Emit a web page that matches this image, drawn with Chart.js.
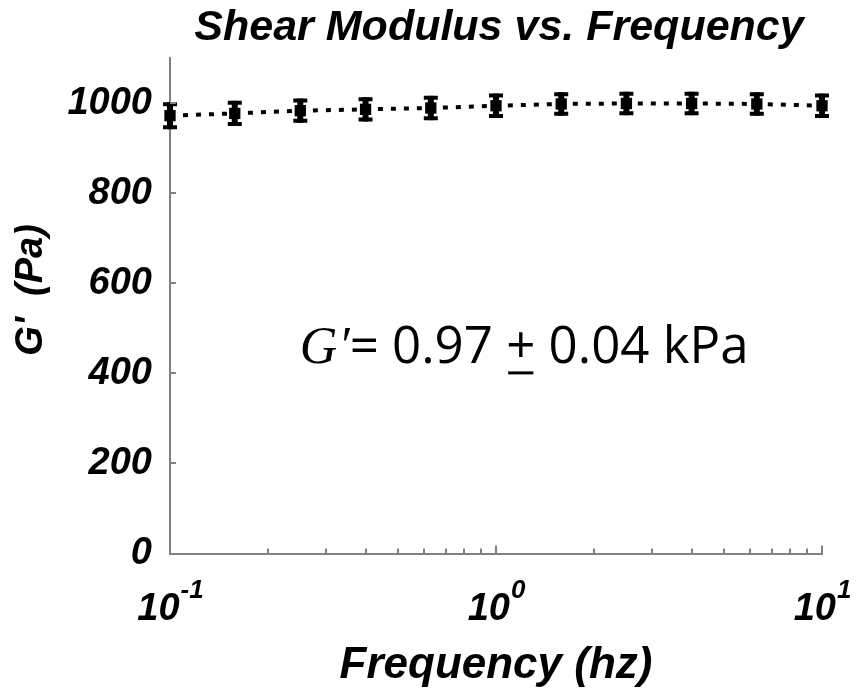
<!DOCTYPE html>
<html>
<head>
<meta charset="utf-8">
<script src="https://cdn.jsdelivr.net/npm/chart.js@4.4.0/dist/chart.umd.min.js"></script>
<style>
  html, body { margin: 0; padding: 0; background: #fff; }
  #wrap { width: 856px; height: 694px; }
</style>
</head>
<body>
<div id="wrap"><canvas id="shearChart"></canvas></div>
<script>
const frequencies = [0.1, 0.158, 0.251, 0.398, 0.631, 1, 1.585, 2.512, 3.981, 6.31, 10];
const modulus = [972, 977, 983, 986, 989, 994, 998, 999, 999, 998, 994];
const modulusErr = [30, 28, 27, 27, 27, 27, 26, 26, 26, 26, 27];
const yTicks = [0, 200, 400, 600, 800, 1000];
const xTicks = [0.1, 1, 10];
const xExponents = ['-1', '0', '1'];
const xMinorTicks = [0.2, 0.3, 0.4, 0.5, 0.6, 0.7, 0.8, 0.9, 2, 3, 4, 5, 6, 7, 8, 9];

const SANS = '"Liberation Sans", Arial, sans-serif';
const AXIS_GREY = '#808080';

// error bars, inward ticks, x tick labels with exponents, title and the note
const decor = {
  id: 'decor',
  afterDatasetsDraw(chart) {
    const { ctx, scales: { x, y } } = chart;
    ctx.save();
    ctx.strokeStyle = '#000';
    frequencies.forEach((f, i) => {
      const px = x.getPixelForValue(f);
      const top = y.getPixelForValue(modulus[i] + modulusErr[i]);
      const bot = y.getPixelForValue(modulus[i] - modulusErr[i]);
      ctx.lineWidth = 6;
      ctx.beginPath();
      ctx.moveTo(px, top); ctx.lineTo(px, bot);
      ctx.stroke();
      ctx.lineWidth = 4;
      ctx.beginPath();
      ctx.moveTo(px - 7, top + 2); ctx.lineTo(px + 7, top + 2);
      ctx.moveTo(px - 7, bot - 2); ctx.lineTo(px + 7, bot - 2);
      ctx.stroke();
    });
    ctx.restore();
  },
  afterDraw(chart) {
    const { ctx, chartArea, scales: { x, y } } = chart;
    ctx.save();

    // inward tick marks
    ctx.strokeStyle = AXIS_GREY;
    ctx.lineWidth = 2;
    ctx.beginPath();
    yTicks.slice(1).forEach(v => {
      const py = Math.round(y.getPixelForValue(v));
      ctx.moveTo(chartArea.left, py); ctx.lineTo(chartArea.left + 6, py);
    });
    xTicks.forEach(v => {
      const px = Math.round(x.getPixelForValue(v));
      ctx.moveTo(px, chartArea.bottom); ctx.lineTo(px, chartArea.bottom - 8);
    });
    xMinorTicks.forEach(v => {
      const px = Math.round(x.getPixelForValue(v));
      ctx.moveTo(px, chartArea.bottom); ctx.lineTo(px, chartArea.bottom - 5);
    });
    ctx.stroke();

    // x tick labels: 10 with raised exponent
    ctx.fillStyle = '#000';
    ctx.textBaseline = 'alphabetic';
    ctx.textAlign = 'left';
    xTicks.forEach((v, i) => {
      const px = x.getPixelForValue(v);
      ctx.font = 'italic bold 38px ' + SANS;
      const wBase = ctx.measureText('10').width;
      ctx.font = 'italic bold 26px ' + SANS;
      const wExp = ctx.measureText(xExponents[i]).width;
      const start = px - (wBase + wExp) / 2;
      ctx.font = 'italic bold 38px ' + SANS;
      ctx.fillText('10', start, chartArea.bottom + 66);
      ctx.font = 'italic bold 26px ' + SANS;
      ctx.fillText(xExponents[i], start + wBase + 1, chartArea.bottom + 44);
    });

    // title
    ctx.textAlign = 'center';
    ctx.font = 'italic bold 43px ' + SANS;
    ctx.fillText('Shear Modulus vs. Frequency', (chartArea.left + chartArea.right) / 2 + 3, 40);

    // note
    let nx = x.getPixelForValue(0.25);
    const ny = y.getPixelForValue(422);
    ctx.textAlign = 'left';
    ctx.font = 'italic 52px "Liberation Serif", serif';
    ctx.fillText('G', nx, ny);
    nx += ctx.measureText('G').width + 1;
    ctx.fillText('\u2032', nx, ny);
    nx += ctx.measureText('\u2032').width;
    ctx.font = '51px "Open Sans", sans-serif';
    ctx.fillText('= 0.97 ', nx, ny);
    nx += ctx.measureText('= 0.97 ').width;
    const wPlus = ctx.measureText('+').width;
    ctx.fillText('+', nx, ny);
    ctx.fillRect(nx + 2, ny + 8, wPlus - 4, 3);
    nx += wPlus;
    ctx.fillText(' 0.04 kPa', nx, ny);

    ctx.restore();
  }
};

const ctx = document.getElementById('shearChart').getContext('2d');

new Chart(ctx, {
  type: 'line',
  data: {
    datasets: [{
      data: frequencies.map((f, i) => ({ x: f, y: modulus[i] })),
      borderColor: '#000',
      backgroundColor: '#000',
      borderWidth: 4,
      borderDash: [5, 8],
      borderCapStyle: 'butt',
      pointStyle: 'rect',
      pointRadius: 8,
      pointBorderWidth: 0,
      tension: 0,
      clip: false
    }]
  },
  options: {
    responsive: true,
    maintainAspectRatio: false,
    animation: false,
    layout: { padding: { top: 58, right: 34, left: 0, bottom: 0 } },
    plugins: {
      legend: { display: false },
      tooltip: { enabled: false }
    },
    scales: {
      x: {
        type: 'logarithmic',
        min: 0.1,
        max: 10,
        grid: { display: false, drawTicks: false },
        border: { color: AXIS_GREY, width: 2 },
        afterBuildTicks: (scale) => { scale.ticks = xTicks.map(v => ({ value: v })); },
        afterFit: (scale) => { scale.height = 140.5; },
        ticks: { callback: () => '' },
        title: {
          display: true,
          text: 'Frequency (hz)',
          color: '#000',
          font: { family: SANS, size: 44, weight: 'bold', style: 'italic' },
          padding: { top: 0, bottom: 2 }
        }
      },
      y: {
        min: 0,
        max: 1100,
        grid: { display: false, drawTicks: false },
        border: { color: AXIS_GREY, width: 2 },
        afterBuildTicks: (scale) => { scale.ticks = yTicks.map(v => ({ value: v })); },
        afterFit: (scale) => { scale.width = 170; },
        ticks: {
          color: '#000',
          padding: 18,
          callback: (v) => String(v),
          font: { family: SANS, size: 38, weight: 'bold', style: 'italic' }
        },
        title: {
          display: true,
          text: "   G'  (Pa)",
          color: '#000',
          font: { family: SANS, size: 38, weight: 'bold', style: 'italic' },
          padding: { top: 9, bottom: 0 }
        }
      }
    }
  },
  plugins: [decor]
});
</script>
</body>
</html>
